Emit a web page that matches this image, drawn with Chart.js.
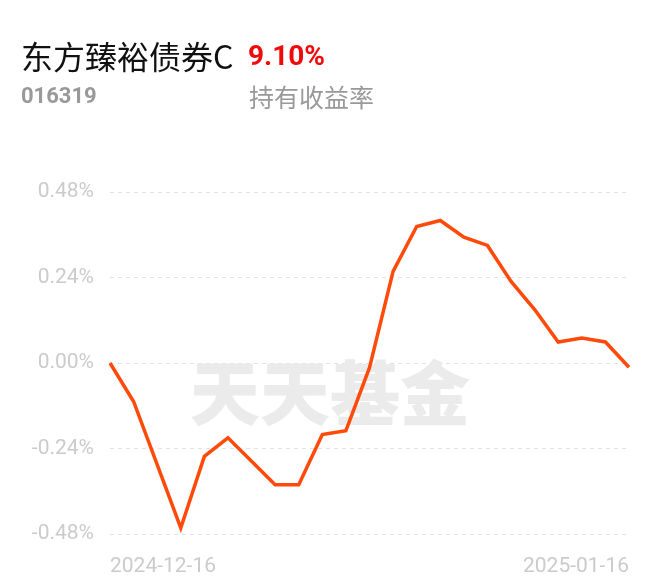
<!DOCTYPE html>
<html>
<head>
<meta charset="utf-8">
<script src="https://cdn.jsdelivr.net/npm/chart.js@4/dist/chart.umd.min.js"></script>
<style>
  html, body { margin: 0; padding: 0; background: #fff; }
  #wrap { position: relative; width: 660px; height: 585px; overflow: hidden; }
  #chart { position: absolute; left: 0; top: 0; }
  .t { position: absolute; white-space: nowrap; font-family: "Noto Sans CJK SC", "Noto Sans", sans-serif; line-height: 1; }
  #name { left: 21px; top: 39px; font-size: 32px; color: #111; }
  #rate { left: 248px; top: 42px; font-size: 28px; font-weight: bold; color: #f00a0a; font-family: Roboto, "Noto Sans", sans-serif; }
  #code { left: 21px; top: 85px; font-size: 22px; font-weight: bold; color: #999; font-family: Roboto, "Noto Sans", sans-serif; }
  #sub { left: 249px; top: 84px; font-size: 25px; color: #999; }
</style>
</head>
<body>
<div id="wrap">
  <canvas id="chart" width="660" height="585"></canvas>
  <div class="t" id="name">东方臻裕债券C</div>
  <div class="t" id="rate">9.10%</div>
  <div class="t" id="code">016319</div>
  <div class="t" id="sub">持有收益率</div>
</div>
<script>
// Data
var dates = [
  "2024-12-16","2024-12-17","2024-12-18","2024-12-19","2024-12-20",
  "2024-12-23","2024-12-24","2024-12-25","2024-12-26","2024-12-27",
  "2024-12-30","2024-12-31","2025-01-02","2025-01-03","2025-01-06",
  "2025-01-07","2025-01-08","2025-01-09","2025-01-10","2025-01-13",
  "2025-01-14","2025-01-15","2025-01-16"
];
var returns = [
  0.000, -0.108, -0.285, -0.463, -0.262,
  -0.210, -0.276, -0.342, -0.342, -0.201,
  -0.190, -0.013, 0.257, 0.383, 0.400,
  0.353, 0.330, 0.229, 0.150, 0.059,
  0.070, 0.059, -0.012
];
var yTicks = [-0.48, -0.24, 0, 0.24, 0.48];

// Watermark behind the line
var watermark = {
  id: "watermark",
  beforeDatasetsDraw: function(chart){
    var ctx = chart.ctx;
    ctx.save();
    ctx.font = "900 70px 'Noto Sans CJK SC'";
    ctx.fillStyle = "#ebebeb";
    ctx.textAlign = "center";
    ctx.textBaseline = "middle";
    ctx.fillText("天天基金", 330, 393);
    ctx.restore();
  }
};

var ctx = document.getElementById("chart");
var chart = new Chart(ctx, {
  type: "line",
  data: {
    labels: dates,
    datasets: [{
      data: returns,
      borderColor: "#ff4a0a",
      borderWidth: 3.5,
      pointRadius: 0,
      tension: 0,
      fill: false
    }]
  },
  options: {
    responsive: false,
    animation: false,
    layout: { padding: { left: 0, right: 31, top: 192, bottom: 0 } },
    plugins: { legend: { display: false }, tooltip: { enabled: false } },
    scales: {
      x: {
        grid: { display: false },
        border: { display: false },
        afterFit: function(scale){ scale.height = 51; },
        ticks: {
          autoSkip: false,
          maxRotation: 0,
          align: "inner",
          padding: 12,
          color: "#cbcbcb",
          font: { family: "Roboto", size: 21 },
          callback: function(v, i){
            return (i === 0 || i === dates.length - 1) ? dates[i] : "";
          }
        }
      },
      y: {
        min: -0.48,
        max: 0.48,
        afterFit: function(scale){ scale.width = 110; },
        afterBuildTicks: function(scale){
          scale.ticks = yTicks.map(function(v){ return { value: v }; });
        },
        border: { display: false, dash: [4, 4] },
        grid: { color: "#e2e2e2", lineWidth: 1, drawTicks: false },
        ticks: {
          padding: 16,
          color: "#cbcbcb",
          font: { family: "Roboto", size: 21 },
          callback: function(v){ return v.toFixed(2) + "%"; }
        }
      }
    }
  },
  plugins: [watermark]
});
</script>
</body>
</html>
